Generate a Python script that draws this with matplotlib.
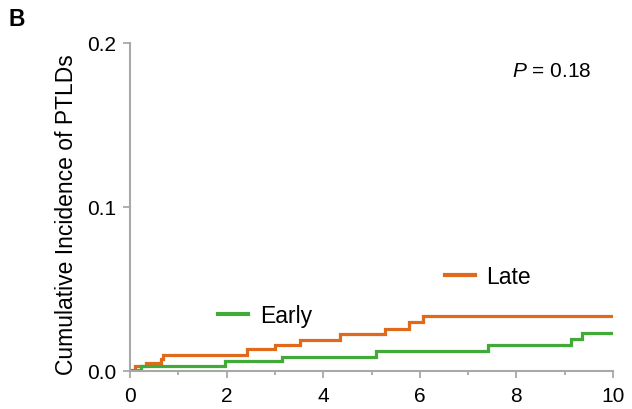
import matplotlib
matplotlib.use("Agg")
import matplotlib.pyplot as plt
from matplotlib.lines import Line2D
from matplotlib.ticker import MultipleLocator

# Step times (years) and cumulative incidence values
late_t = [0.0, 0.10, 0.34, 0.64, 0.69, 2.43, 3.00, 3.52, 4.35, 5.28, 5.78, 6.07, 10.0]
late_y = [0.0, 0.0028, 0.0050, 0.0073, 0.0099, 0.0134, 0.0160, 0.0190, 0.0226, 0.0256, 0.0300, 0.0337, 0.0337]
early_t = [0.0, 0.22, 1.97, 3.14, 5.09, 7.42, 9.14, 9.35, 10.0]
early_y = [0.0008, 0.0032, 0.0059, 0.0087, 0.0124, 0.0159, 0.0195, 0.0230, 0.0230]

x_ticks = [0, 2, 4, 6, 8, 10]
y_ticks = [0.0, 0.1, 0.2]
y_tick_labels = ["0.0", "0.1", "0.2"]

c_late = "#E06A1C"
c_early = "#41AA39"
axis_gray = "#A8A8A8"

plt.rcParams['font.family'] = ['Liberation Sans', 'DejaVu Sans']
plt.rcParams['mathtext.fontset'] = 'custom'
plt.rcParams['mathtext.it'] = 'Liberation Sans:italic'
plt.rcParams['mathtext.rm'] = 'Liberation Sans'

fig = plt.figure(figsize=(6.32, 4.10), dpi=100)
ax = fig.add_axes([130/632, 38/410, 483/632, 328/410])

ax.step(late_t, late_y, where='post', color=c_late, lw=2.3, solid_joinstyle='miter')
ax.step(early_t, early_y, where='post', color=c_early, lw=2.3, solid_joinstyle='miter')

ax.set_xlim(0, 10)
ax.set_ylim(0, 0.2)
ax.set_xticks(x_ticks)
ax.xaxis.set_minor_locator(MultipleLocator(1))
ax.set_yticks(y_ticks)
ax.set_yticklabels(y_tick_labels)

for s in ['top', 'right']:
    ax.spines[s].set_visible(False)
for s in ['left', 'bottom']:
    ax.spines[s].set_color(axis_gray)
    ax.spines[s].set_linewidth(1.5)

ax.tick_params(axis='both', which='major', direction='out', length=5, width=1.3,
               color=axis_gray, labelsize=15, pad=5, labelcolor='black')
ax.tick_params(axis='x', which='major', pad=6)
ax.tick_params(axis='x', which='minor', direction='out', length=3, width=1.3, color=axis_gray)

ax.set_ylabel("Cumulative Incidence of PTLDs", fontsize=16.5)
ax.yaxis.set_label_coords(-0.107, 0.479)

ax.text(0.955, 0.915, r"$\it{P}$ = 0.18", transform=ax.transAxes, ha='right', va='center', fontsize=15)

h_early = Line2D([], [], color=c_early, lw=3)
h_late = Line2D([], [], color=c_late, lw=3)
leg1 = ax.legend([h_early], ["Early"], loc='center left', bbox_to_anchor=(0.183, 0.169),
                 frameon=False, fontsize=16.5, handlelength=1.3, handletextpad=0.5,
                 borderpad=0, borderaxespad=0)
ax.add_artist(leg1)
ax.legend([h_late], ["Late"], loc='center left', bbox_to_anchor=(0.652, 0.289),
          frameon=False, fontsize=16.5, handlelength=1.3, handletextpad=0.5,
          borderpad=0, borderaxespad=0)

fig.text(8/632, 1 - 19/410, "B", fontsize=16.5, fontweight='bold', va='center', ha='left')

fig.savefig("out.png", dpi=100)
